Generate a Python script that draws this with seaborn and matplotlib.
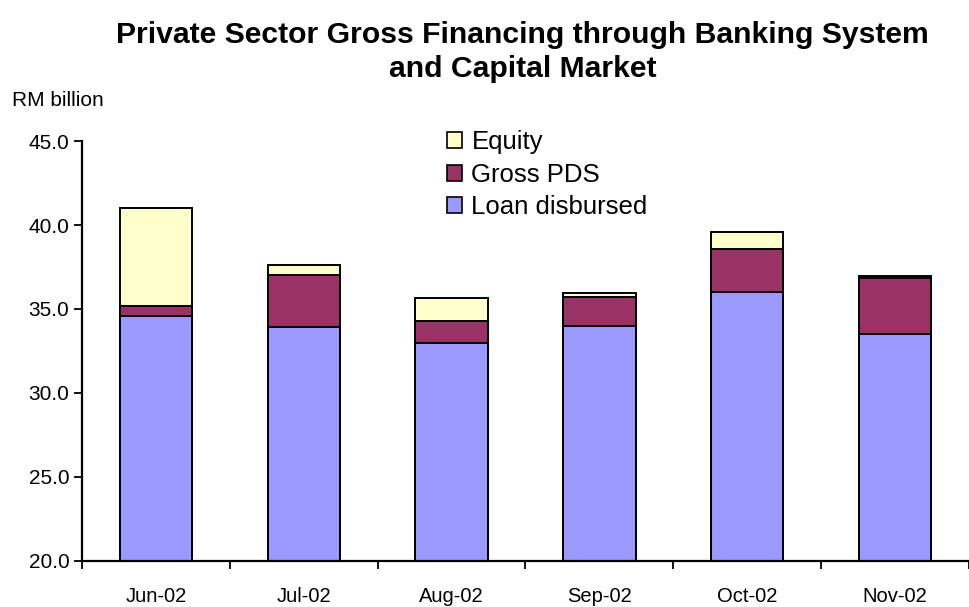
import matplotlib
matplotlib.use("Agg")
import matplotlib.pyplot as plt
from matplotlib.patches import Patch
from matplotlib.ticker import FixedLocator, FormatStrFormatter
import numpy as np
import pandas as pd
import seaborn as sns

# Monthly financing components, RM billion
months = ["Jun-02", "Jul-02", "Aug-02", "Sep-02", "Oct-02", "Nov-02"]
loan_disbursed = [34.6, 33.9, 33.0, 34.0, 36.0, 33.5]
gross_pds = [0.6, 3.1, 1.3, 1.7, 2.6, 3.35]
equity = [5.8, 0.6, 1.35, 0.25, 1.0, 0.1]

colors = {"Equity": "#FFFFCC", "Gross PDS": "#993366", "Loan disbursed": "#9999FF"}

df = pd.DataFrame({
    "month": months,
    "Loan disbursed": loan_disbursed,
    "Gross PDS": gross_pds,
    "Equity": equity,
})
# cumulative heights for the stacked layers
df["lvl_loan"] = df["Loan disbursed"]
df["lvl_pds"] = df["lvl_loan"] + df["Gross PDS"]
df["lvl_eq"] = df["lvl_pds"] + df["Equity"]

sns.set_theme(style="white")
plt.rcParams["font.family"] = ["Liberation Sans", "DejaVu Sans"]
plt.rcParams["text.color"] = "black"
plt.rcParams["axes.labelcolor"] = "black"
plt.rcParams["xtick.color"] = "black"
plt.rcParams["ytick.color"] = "black"

fig = plt.figure(figsize=(9.69, 6.07), dpi=100)
ax = fig.add_axes([0.0846, 0.0758, 0.9154, 0.6919])

bar_kw = dict(width=0.49, edgecolor="black", linewidth=1.4, saturation=1, ax=ax)
sns.barplot(data=df, x="month", y="lvl_eq", color=colors["Equity"], **bar_kw)
sns.barplot(data=df, x="month", y="lvl_pds", color=colors["Gross PDS"], **bar_kw)
sns.barplot(data=df, x="month", y="lvl_loan", color=colors["Loan disbursed"], **bar_kw)

ax.set_ylim(20, 45)
ax.set_xlim(-0.5, len(months) - 0.5)
ax.set_xlabel("")
ax.set_ylabel("")
ax.yaxis.set_major_locator(FixedLocator(np.arange(20, 45.1, 5)))
ax.yaxis.set_major_formatter(FormatStrFormatter("%.1f"))

# category boundaries carry the x tick marks; labels sit under the bars
ax.xaxis.set_minor_locator(FixedLocator(np.arange(-0.5, len(months), 1.0)))
ax.tick_params(axis="x", which="major", length=0, pad=19, labelsize=14.5, colors="black")
ax.tick_params(axis="x", which="minor", length=6, width=1.3, direction="out",
               bottom=True, color="black")
ax.tick_params(axis="y", which="major", length=6, width=1.3, direction="out",
               left=True, labelsize=15, colors="black", pad=3)

for side in ["top", "right"]:
    ax.spines[side].set_visible(False)
for side in ["left", "bottom"]:
    ax.spines[side].set_color("black")
    ax.spines[side].set_linewidth(1.6)
ax.grid(False)

handles = [Patch(facecolor=colors[k], edgecolor="black", linewidth=1.2, label=k)
           for k in ["Equity", "Gross PDS", "Loan disbursed"]]
ax.legend(handles=handles, loc="upper left", bbox_to_anchor=(0.4, 1.05),
          frameon=False, fontsize=18.5, handlelength=0.6, handleheight=0.6,
          handletextpad=0.35, labelspacing=0.33, borderaxespad=0)

fig.text(0.012, 0.834, "RM billion", fontsize=15, ha="left", va="center")
fig.text(0.539, 0.915, "Private Sector Gross Financing through Banking System\nand Capital Market",
         fontsize=21.7, fontweight="bold", ha="center", va="center", linespacing=1.27)

fig.savefig("out.png", dpi=100, facecolor="white")
